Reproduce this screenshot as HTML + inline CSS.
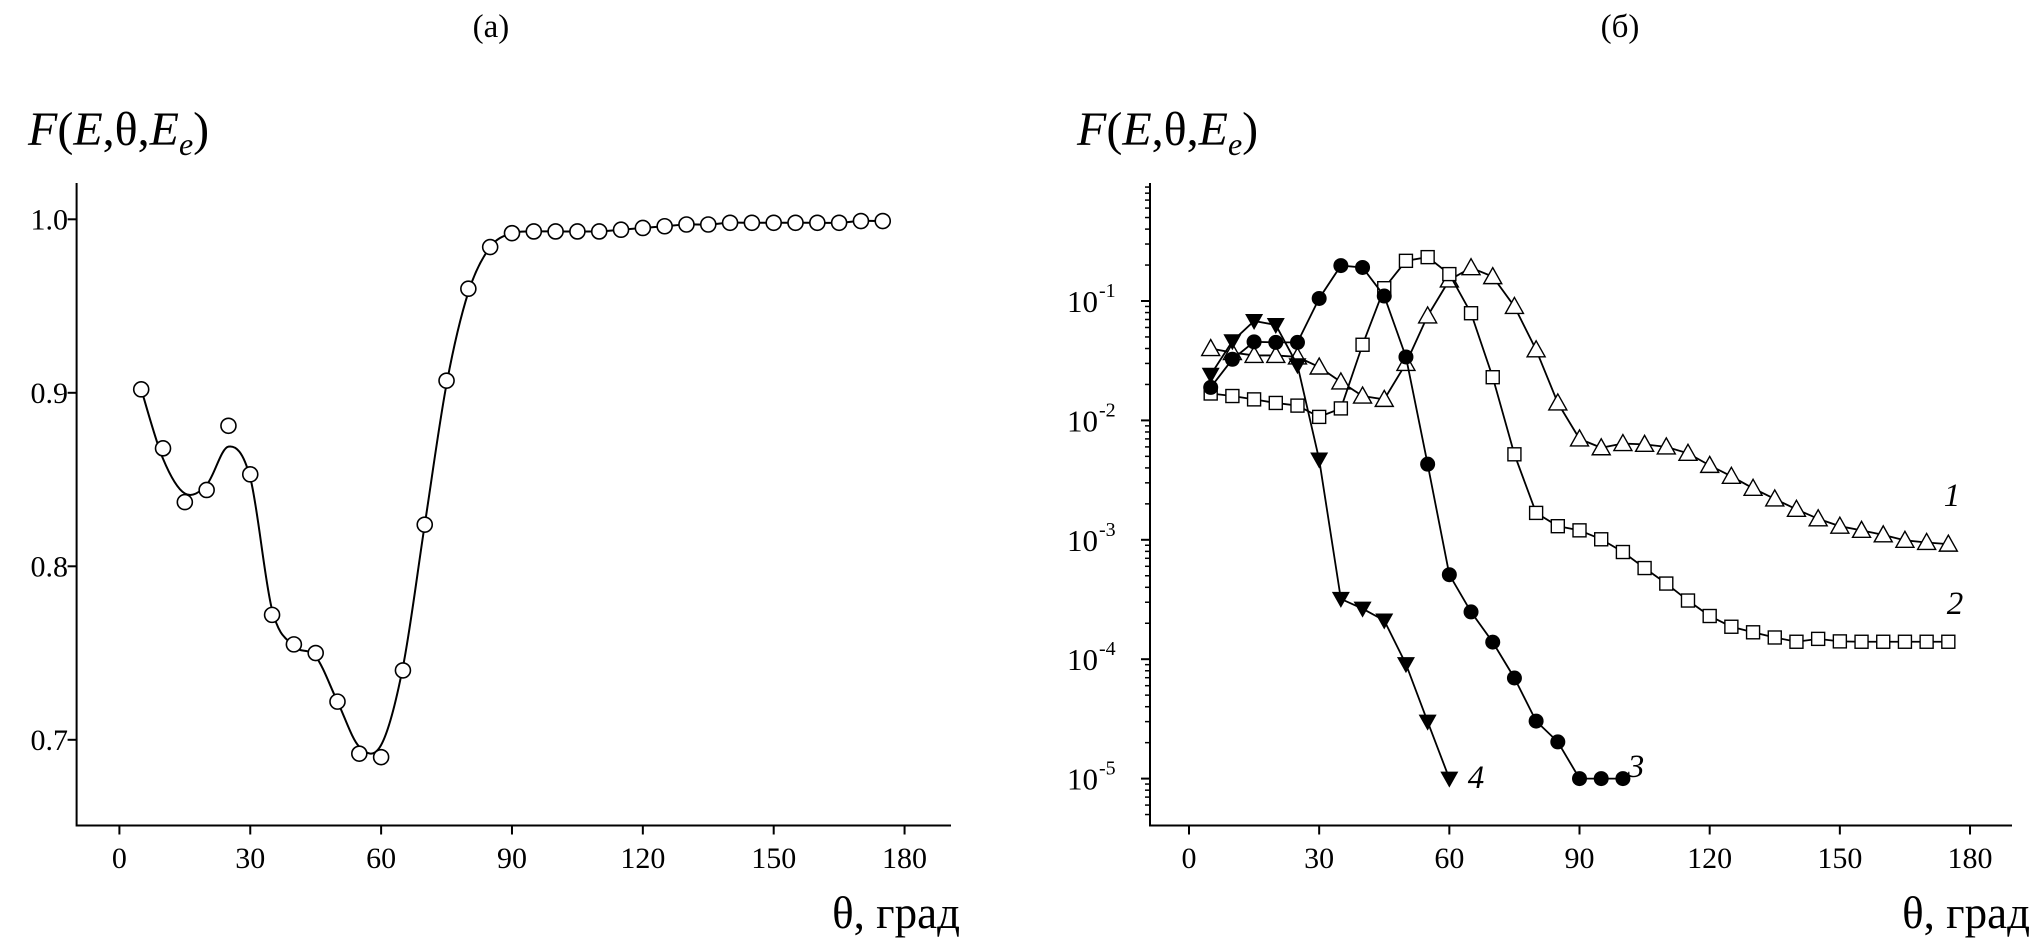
<!DOCTYPE html>
<html><head><meta charset="utf-8">
<style>
html,body{margin:0;padding:0;background:#fff;}
svg{display:block;font-family:"Liberation Serif",serif;}
</style></head>
<body>
<svg id="chart" width="2035" height="943" viewBox="0 0 2035 943" xmlns="http://www.w3.org/2000/svg">
<text x="491" y="37" font-size="33" text-anchor="middle">(а)</text>
<text x="1620" y="37" font-size="33" text-anchor="middle">(б)</text>
<g id="pa"></g>
<g id="pb"></g>
</svg>
<script>
// ---- Panel (a) data ----
const thetaA = [5,10,15,20,25,30,35,40,45,50,55,60,65,70,75,80,85,90,95,100,105,110,115,120,125,130,135,140,145,150,155,160,165,170,175];
const valuesA = [0.902,0.868,0.837,0.844,0.881,0.853,0.772,0.755,0.750,0.722,0.692,0.690,0.740,0.824,0.907,0.960,0.984,0.992,0.993,0.993,0.993,0.993,0.994,0.995,0.996,0.997,0.997,0.998,0.998,0.998,0.998,0.998,0.998,0.999,0.999];
const fitA = [0.902,0.862,0.842,0.847,0.869,0.851,0.775,0.754,0.748,0.722,0.696,0.697,0.742,0.824,0.905,0.958,0.984,0.992,0.993,0.993,0.993,0.993,0.994,0.995,0.996,0.997,0.997,0.998,0.998,0.998,0.998,0.998,0.998,0.999,0.999];
const xTicksA = [0,30,60,90,120,150,180];
const yTicksA = [0.7,0.8,0.9,1.0];
const yTickLabelsA = ["0.7","0.8","0.9","1.0"];

// ---- Panel (b) data ----
const thetaB1 = [5,10,15,20,25,30,35,40,45,50,55,60,65,70,75,80,85,90,95,100,105,110,115,120,125,130,135,140,145,150,155,160,165,170,175];
const series1 = [0.040,0.037,0.035,0.035,0.034,0.028,0.021,0.016,0.015,0.030,0.075,0.15,0.19,0.16,0.09,0.039,0.014,0.0070,0.0059,0.0064,0.0063,0.0060,0.0053,0.0042,0.0034,0.0027,0.0022,0.0018,0.0015,0.0013,0.0012,0.0011,0.00099,0.00095,0.00092];
const thetaB2 = [5,10,15,20,25,30,35,40,45,50,55,60,65,70,75,80,85,90,95,100,105,110,115,120,125,130,135,140,145,150,155,160,165,170,175];
const series2 = [0.0168,0.016,0.015,0.014,0.0133,0.0107,0.0126,0.043,0.128,0.217,0.233,0.168,0.079,0.023,0.0052,0.00168,0.0013,0.0012,0.00101,0.00079,0.00058,0.00043,0.00031,0.00023,0.000187,0.000168,0.000152,0.00014,0.000148,0.000141,0.00014,0.00014,0.00014,0.00014,0.00014];
const thetaB3 = [5,10,15,20,25,30,35,40,45,50,55,60,65,70,75,80,85,90,95,100];
const series3 = [0.0189,0.0325,0.0455,0.045,0.045,0.105,0.198,0.191,0.110,0.034,0.0043,0.00051,0.000249,0.000139,0.0000696,0.0000303,0.0000203,0.00001,0.00001,0.00001];
const thetaB4 = [5,10,15,20,25,30,35,40,45,50,55,60];
const series4 = [0.0241,0.046,0.068,0.063,0.029,0.0047,0.00032,0.000265,0.000211,0.000091,0.00003,0.00001];
const xTicksB = [0,30,60,90,120,150,180];
const yExpB = [-5,-4,-3,-2,-1];

const NS="http://www.w3.org/2000/svg";
function mk(parent,tag,attrs,text){const e=document.createElementNS(NS,tag);for(const k in attrs)e.setAttribute(k,attrs[k]);if(text!==undefined)e.textContent=text;parent.appendChild(e);return e;}

// ===== Panel A =====
(function(){
  const g=document.getElementById('pa');
  const L=76.6,R=951,T=183,B=825.5;
  const x=v=>119.4+(v)*4.362;
  const y=v=>219.3+(1.0-v)*1735;
  const ax=mk(g,'path',{d:`M${L},${T} V${B} H${R}`,fill:'none',stroke:'#000','stroke-width':2});
  
  xTicksA.forEach(t=>{
    const tk=mk(g,'line',{x1:x(t),x2:x(t),y1:B,y2:B+9,stroke:'#000','stroke-width':2});
    
    const lb=mk(g,'text',{x:x(t),y:868,'font-size':30,'text-anchor':'middle'},String(t));
    
  });
  yTicksA.forEach((t,i)=>{
    const tk=mk(g,'line',{x1:L-9,x2:L,y1:y(t),y2:y(t),stroke:'#000','stroke-width':2});
    
    const lb=mk(g,'text',{x:68,y:y(t)+10,'font-size':30,'text-anchor':'end'},yTickLabelsA[i]);
    
  });
  const P=thetaA.map((t,i)=>[x(t),y(fitA[i])]);
  let d=`M${P[0][0]},${P[0][1]}`;
  for(let i=0;i<P.length-1;i++){
    const p0=P[Math.max(0,i-1)],p1=P[i],p2=P[i+1],p3=P[Math.min(P.length-1,i+2)];
    d+=` C${p1[0]+(p2[0]-p0[0])/6},${p1[1]+(p2[1]-p0[1])/6} ${p2[0]-(p3[0]-p1[0])/6},${p2[1]-(p3[1]-p1[1])/6} ${p2[0]},${p2[1]}`;
  }
  const ln=mk(g,'path',{d:d,fill:'none',stroke:'#000','stroke-width':2});
  
  thetaA.forEach((t,i)=>{
    const c=mk(g,'circle',{cx:x(t),cy:y(valuesA[i]),r:7.5,fill:'#fff',stroke:'#000','stroke-width':1.6});
    
  });
  const yl=mk(g,'text',{x:28,y:145,'font-size':48});
  
  yl.innerHTML='<tspan font-style="italic">F</tspan>(<tspan font-style="italic">E</tspan>,θ,<tspan font-style="italic">E</tspan><tspan font-style="italic" font-size="32" dy="10">e</tspan><tspan dy="-10">)</tspan>';
  const xl=mk(g,'text',{x:960,y:928,'font-size':45,'text-anchor':'end'},'θ, град');
  
})();

// ===== Panel B =====
(function(){
  const g=document.getElementById('pb');
  const L=1150,R=2012,T=183,B=825.5;
  const x=v=>1189+v*4.339;
  const y=v=>301-(Math.log10(v)+1)*119.4;
  const ax=mk(g,'path',{d:`M${L},${T} V${B} H${R}`,fill:'none',stroke:'#000','stroke-width':2});
  
  xTicksB.forEach(t=>{
    const tk=mk(g,'line',{x1:x(t),x2:x(t),y1:B,y2:B+9,stroke:'#000','stroke-width':2});
    
    const lb=mk(g,'text',{x:x(t),y:868,'font-size':30,'text-anchor':'middle'},String(t));
    
  });
  for(let e=-6;e<=0;e++){
    for(let m=1;m<10;m++){
      const v=m*Math.pow(10,e);const yy=y(v);
      if(yy<T-1||yy>B)continue;
      const len=m===1?9:5;
      const tk=mk(g,'line',{x1:L-len,x2:L,y1:yy,y2:yy,stroke:'#000','stroke-width':m===1?2:1.5});
      
    }
  }
  yExpB.forEach(e=>{
    const lb=mk(g,'text',{x:1098,y:y(Math.pow(10,e))+11,'font-size':31,'text-anchor':'end'},'10');
    
    const sp=mk(g,'text',{x:1099,y:y(Math.pow(10,e))-4,'font-size':20,'text-anchor':'start'},String(e));
    
  });
  function series(th,vals,name,marker){
    const d=th.map((t,i)=>(i?'L':'M')+x(t)+','+y(vals[i])).join(' ');
    const ln=mk(g,'path',{d:d,fill:'none',stroke:'#000','stroke-width':1.8});
    
    th.forEach((t,i)=>{
      const cx=x(t),cy=y(vals[i]);let m;
      if(marker==='tri')m=mk(g,'polygon',{points:`${cx},${cy-9} ${cx+9},${cy+7} ${cx-9},${cy+7}`,fill:'#fff',stroke:'#000','stroke-width':1.4});
      else if(marker==='sq')m=mk(g,'rect',{x:cx-6.5,y:cy-6.5,width:13,height:13,fill:'#fff',stroke:'#000','stroke-width':1.4});
      else if(marker==='dot')m=mk(g,'circle',{cx:cx,cy:cy,r:7.5,fill:'#000'});
      else m=mk(g,'polygon',{points:`${cx-9},${cy-7} ${cx+9},${cy-7} ${cx},${cy+9}`,fill:'#000'});
      
    });
  }
  series(thetaB1,series1,'series-1','tri');
  series(thetaB2,series2,'series-2','sq');
  series(thetaB3,series3,'series-3','dot');
  series(thetaB4,series4,'series-4','dtri');
  [['1',1952,506],['2',1955,614],['3',1636,777],['4',1476,788]].forEach(l=>{
    const t=mk(g,'text',{x:l[1],y:l[2],'font-size':33,'font-style':'italic','text-anchor':'middle'},l[0]);
    
  });
  const yl=mk(g,'text',{x:1077,y:145,'font-size':48});
  
  yl.innerHTML='<tspan font-style="italic">F</tspan>(<tspan font-style="italic">E</tspan>,θ,<tspan font-style="italic">E</tspan><tspan font-style="italic" font-size="32" dy="10">e</tspan><tspan dy="-10">)</tspan>';
  const xl=mk(g,'text',{x:2030,y:928,'font-size':45,'text-anchor':'end'},'θ, град');
  
})();
</script>
</body></html>
